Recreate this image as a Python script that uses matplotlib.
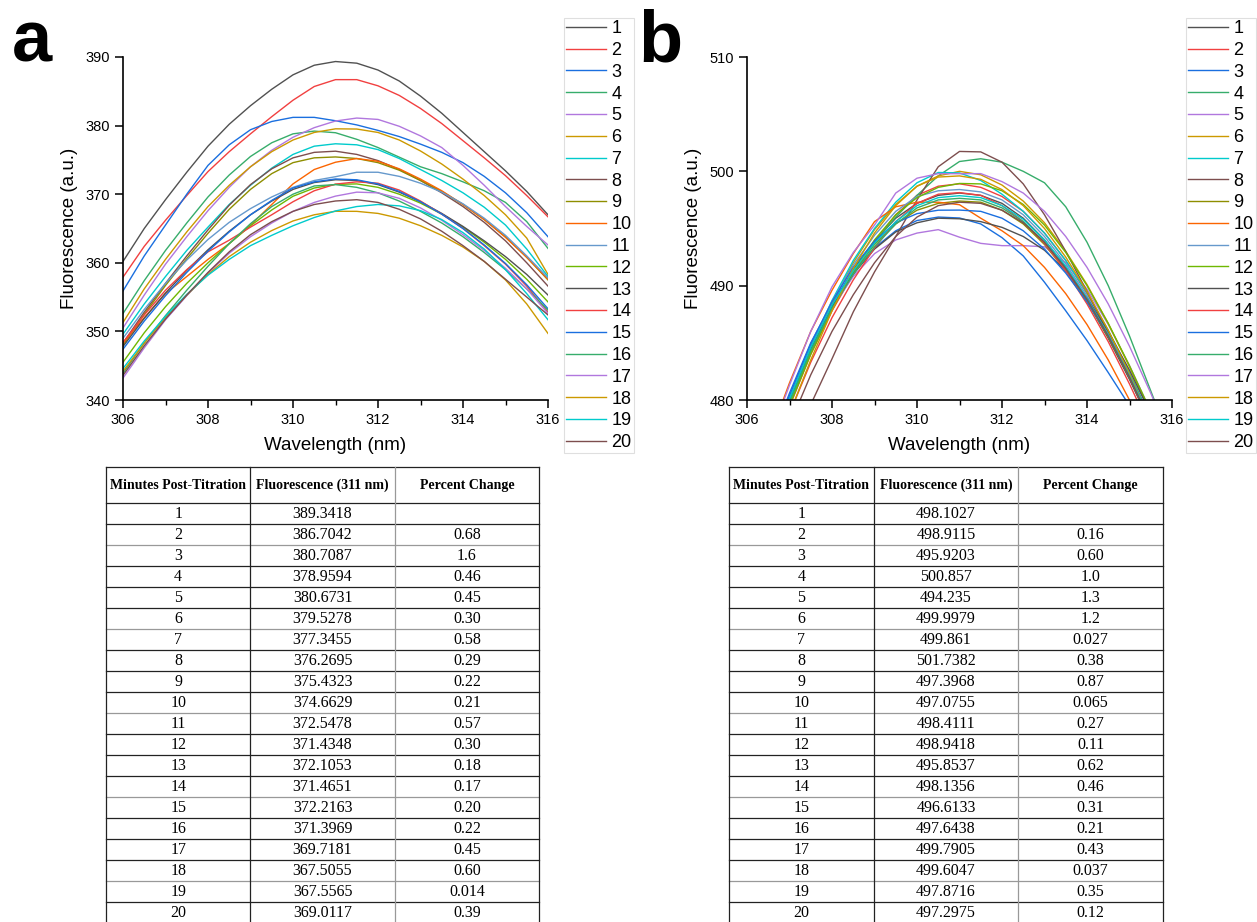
import matplotlib
matplotlib.use('Agg')
import matplotlib.pyplot as plt
from matplotlib.ticker import MultipleLocator

plt.rcParams['font.family'] = ['Liberation Sans', 'DejaVu Sans']

# Origin default colour list (repeats after 12)
colors = ['#515151', '#F14040', '#1A6FDF', '#37AD6B', '#B177DE', '#CC9900',
          '#00CBCC', '#7D4E4E', '#8E8E00', '#FB6501', '#6699CC', '#6FB802']

minutes = [1, 2, 3, 4, 5, 6, 7, 8, 9, 10, 11, 12, 13, 14, 15, 16, 17, 18, 19, 20]

# ---- panel a spectra (306-316 nm, 0.5 nm step)
wl_a = [306.0, 306.5, 307.0, 307.5, 308.0, 308.5, 309.0, 309.5, 310.0, 310.5, 311.0,
        311.5, 312.0, 312.5, 313.0, 313.5, 314.0, 314.5, 315.0, 315.5, 316.0]
a1 = [360.2, 365.0, 369.2, 373.2, 377.0, 380.2, 382.9, 385.3, 387.4, 388.8, 389.34, 389.1, 388.1, 386.5, 384.3, 381.8, 379.0, 376.2, 373.4, 370.4, 367.0]
a2 = [357.9, 362.4, 366.2, 369.8, 373.3, 376.2, 378.8, 381.3, 383.7, 385.7, 386.70, 386.7, 385.8, 384.4, 382.5, 380.3, 377.8, 375.3, 372.7, 369.8, 366.7]
a3 = [355.9, 361.0, 365.5, 370.0, 374.2, 377.2, 379.4, 380.6, 381.2, 381.2, 380.71, 380.1, 379.3, 378.4, 377.3, 376.1, 374.6, 372.6, 370.2, 367.3, 363.8]
a4 = [352.6, 357.4, 361.8, 365.8, 369.6, 372.8, 375.5, 377.5, 378.8, 379.2, 378.96, 378.0, 376.8, 375.4, 374.0, 373.0, 371.8, 370.5, 368.8, 366.0, 362.1]
a5 = [350.5, 355.3, 359.8, 363.8, 367.6, 371.0, 374.0, 376.4, 378.3, 379.7, 380.67, 381.1, 380.9, 379.9, 378.5, 376.8, 374.2, 371.3, 368.2, 365.3, 362.6]
a6 = [351.3, 356.2, 360.5, 364.5, 368.2, 371.3, 374.0, 376.2, 377.9, 379.0, 379.53, 379.5, 379.0, 377.9, 376.3, 374.4, 372.2, 369.8, 367.0, 363.6, 358.3]
a7 = [349.6, 354.0, 358.0, 361.8, 365.2, 368.5, 371.3, 373.8, 375.8, 377.0, 377.35, 377.2, 376.5, 375.2, 373.6, 372.0, 370.2, 368.1, 365.5, 362.0, 358.0]
a8 = [348.3, 352.8, 357.0, 361.0, 364.8, 368.4, 371.4, 373.7, 375.3, 376.1, 376.27, 375.8, 374.9, 373.6, 372.0, 370.2, 368.2, 365.9, 363.2, 360.0, 356.6]
a9 = [348.0, 352.5, 356.7, 360.6, 364.3, 367.8, 370.7, 373.0, 374.6, 375.3, 375.43, 375.2, 374.6, 373.5, 372.0, 370.4, 368.5, 366.3, 363.8, 360.8, 357.5]
a10 = [348.3, 352.0, 355.5, 358.0, 360.5, 362.8, 365.5, 368.5, 371.5, 373.6, 374.66, 375.2, 374.8, 373.7, 372.2, 370.5, 368.5, 366.3, 363.7, 360.8, 357.6]
a11 = [349.0, 353.2, 357.0, 360.4, 363.4, 365.9, 367.9, 369.6, 371.0, 372.0, 372.55, 373.2, 373.2, 372.6, 371.6, 370.3, 368.6, 366.5, 364.0, 361.0, 357.8]
a12 = [345.5, 349.8, 353.6, 357.0, 360.0, 362.8, 365.4, 367.7, 369.7, 370.9, 371.43, 371.5, 371.0, 370.0, 368.7, 367.1, 365.2, 363.0, 360.5, 357.6, 354.3]
a13 = [347.8, 351.9, 355.6, 358.9, 361.9, 364.6, 367.0, 369.0, 370.7, 371.7, 372.11, 372.0, 371.4, 370.3, 368.9, 367.2, 365.3, 363.2, 360.9, 358.3, 355.3]
a14 = [348.4, 352.4, 356.0, 359.0, 361.6, 363.3, 365.2, 367.0, 368.9, 370.5, 371.47, 371.8, 371.6, 370.6, 369.0, 367.1, 365.0, 362.5, 359.8, 356.6, 352.8]
a15 = [347.4, 351.5, 355.2, 358.6, 361.7, 364.5, 367.0, 369.1, 370.9, 371.8, 372.22, 372.1, 371.5, 370.4, 368.9, 367.1, 365.0, 362.6, 359.9, 356.8, 353.3]
a16 = [343.9, 348.3, 352.3, 356.0, 359.5, 362.8, 365.7, 368.2, 370.0, 371.2, 371.40, 371.0, 370.2, 369.0, 367.5, 365.8, 363.8, 361.5, 359.0, 356.2, 353.1]
a17 = [343.2, 347.6, 351.7, 355.2, 358.5, 361.4, 363.8, 365.8, 367.5, 368.8, 369.72, 370.3, 370.2, 369.4, 368.0, 366.2, 364.1, 361.8, 359.2, 356.2, 352.6]
a18 = [344.2, 348.3, 352.0, 355.3, 358.3, 360.9, 363.0, 364.7, 366.1, 367.0, 367.51, 367.5, 367.2, 366.5, 365.4, 364.0, 362.3, 360.2, 357.5, 354.0, 349.7]
a19 = [344.6, 348.6, 352.2, 355.4, 358.2, 360.5, 362.5, 364.0, 365.4, 366.6, 367.56, 368.2, 368.5, 368.3, 367.6, 366.3, 364.4, 362.0, 359.0, 355.5, 351.7]
a20 = [343.6, 347.9, 351.8, 355.3, 358.6, 361.6, 364.1, 366.0, 367.5, 368.5, 369.01, 369.2, 368.8, 367.8, 366.4, 364.6, 362.5, 360.2, 357.6, 355.0, 352.4]

# ---- panel b spectra (306.5-316 nm, 0.5 nm step)
wl_b = [306.5, 307.0, 307.5, 308.0, 308.5, 309.0, 309.5, 310.0, 310.5, 311.0,
        311.5, 312.0, 312.5, 313.0, 313.5, 314.0, 314.5, 315.0, 315.5, 316.0]
b1 = [475.0, 480.0, 484.6, 488.3, 491.4, 493.9, 495.9, 497.2, 497.9, 498.10, 497.9, 497.2, 495.9, 494.0, 491.6, 488.7, 485.4, 481.8, 477.9, 474.0]
b2 = [474.5, 479.4, 484.0, 487.8, 491.0, 493.8, 496.2, 497.9, 498.7, 498.91, 498.6, 497.8, 496.5, 494.6, 492.2, 489.3, 486.0, 482.3, 478.3, 474.2]
b3 = [475.8, 480.6, 485.0, 488.5, 491.2, 493.3, 494.8, 495.7, 496.0, 495.92, 495.4, 494.2, 492.6, 490.3, 487.8, 485.2, 482.4, 479.5, 476.3, 472.8]
b4 = [474.6, 479.6, 484.2, 488.0, 491.2, 493.8, 496.0, 497.9, 499.6, 500.86, 501.1, 500.8, 500.0, 499.0, 496.9, 493.8, 490.0, 485.6, 480.8, 476.0]
b5 = [475.5, 480.3, 484.6, 488.1, 490.8, 492.8, 494.0, 494.6, 494.9, 494.24, 493.7, 493.5, 493.5, 493.4, 492.0, 489.7, 486.6, 483.0, 479.0, 475.0]
b6 = [474.8, 479.8, 484.5, 488.5, 492.0, 494.9, 497.1, 498.7, 499.6, 500.00, 499.7, 498.8, 497.4, 495.5, 493.0, 490.1, 486.7, 482.9, 478.8, 474.6]
b7 = [475.0, 480.0, 484.7, 488.7, 492.2, 495.0, 497.3, 499.0, 499.9, 499.86, 499.2, 498.0, 496.5, 494.6, 492.2, 489.4, 486.1, 482.4, 478.4, 474.3]
b8 = [471.0, 475.5, 479.6, 483.6, 487.7, 491.2, 494.3, 497.5, 500.4, 501.74, 501.7, 500.8, 498.9, 496.2, 493.0, 489.5, 485.8, 481.9, 477.8, 473.6]
b9 = [475.0, 480.0, 484.5, 488.2, 491.2, 493.6, 495.4, 496.6, 497.2, 497.40, 497.3, 496.6, 495.4, 493.6, 491.3, 488.6, 485.5, 482.0, 478.1, 474.0]
b10 = [476.5, 481.5, 486.0, 489.6, 492.8, 495.6, 496.9, 497.3, 497.3, 497.08, 495.9, 494.8, 493.5, 491.6, 489.3, 486.6, 483.5, 480.0, 476.2, 472.2]
b11 = [475.2, 480.2, 484.8, 488.6, 491.8, 494.4, 496.5, 497.8, 498.3, 498.41, 498.2, 497.5, 496.2, 494.3, 491.9, 489.1, 485.8, 482.1, 478.1, 473.9]
b12 = [474.6, 479.5, 484.0, 487.9, 491.2, 494.0, 496.2, 497.7, 498.6, 498.94, 498.9, 498.3, 497.1, 495.3, 492.9, 490.0, 486.7, 483.0, 479.0, 474.8]
b13 = [475.0, 480.0, 484.5, 488.2, 491.0, 493.2, 494.7, 495.5, 495.9, 495.85, 495.6, 495.1, 494.3, 493.1, 491.3, 488.9, 486.0, 482.6, 478.8, 474.8]
b14 = [473.8, 478.8, 483.3, 487.2, 490.5, 493.3, 495.6, 497.2, 498.0, 498.14, 497.9, 497.0, 495.6, 493.7, 491.3, 488.4, 485.1, 481.4, 477.4, 473.2]
b15 = [475.5, 480.4, 484.9, 488.6, 491.6, 493.9, 495.5, 496.3, 496.6, 496.61, 496.5, 495.9, 494.8, 493.2, 491.1, 488.6, 485.6, 482.2, 478.4, 474.3]
b16 = [474.8, 479.8, 484.3, 488.0, 491.0, 493.4, 495.4, 496.8, 497.5, 497.64, 497.5, 496.8, 495.6, 493.8, 491.5, 488.8, 485.6, 482.0, 478.0, 473.8]
b17 = [476.3, 481.3, 486.0, 489.9, 492.9, 495.3, 498.1, 499.4, 499.8, 499.79, 499.8, 499.1, 498.1, 496.5, 494.3, 491.6, 488.4, 484.7, 480.6, 476.2]
b18 = [474.0, 478.8, 483.5, 487.8, 491.5, 494.6, 497.0, 498.7, 499.5, 499.60, 499.3, 498.4, 497.0, 495.0, 492.5, 489.5, 486.1, 482.3, 478.2, 474.0]
b19 = [475.2, 480.1, 484.6, 488.3, 491.3, 493.7, 495.6, 497.0, 497.7, 497.87, 497.7, 497.0, 495.8, 494.0, 491.7, 488.9, 485.7, 482.1, 478.2, 474.1]
b20 = [473.0, 477.8, 482.2, 486.0, 489.2, 492.0, 494.3, 496.0, 497.0, 497.30, 497.2, 496.6, 495.5, 493.8, 491.5, 488.8, 485.6, 482.0, 478.0, 473.8]

# ---- tables
table_header = ['Minutes Post-Titration', 'Fluorescence (311 nm)', 'Percent Change']
fluor_a = ['389.3418', '386.7042', '380.7087', '378.9594', '380.6731', '379.5278', '377.3455',
           '376.2695', '375.4323', '374.6629', '372.5478', '371.4348', '372.1053', '371.4651',
           '372.2163', '371.3969', '369.7181', '367.5055', '367.5565', '369.0117']
pct_a = ['', '0.68', '1.6', '0.46', '0.45', '0.30', '0.58', '0.29', '0.22', '0.21',
         '0.57', '0.30', '0.18', '0.17', '0.20', '0.22', '0.45', '0.60', '0.014', '0.39']
fluor_b = ['498.1027', '498.9115', '495.9203', '500.857', '494.235', '499.9979', '499.861',
           '501.7382', '497.3968', '497.0755', '498.4111', '498.9418', '495.8537', '498.1356',
           '496.6133', '497.6438', '499.7905', '499.6047', '497.8716', '497.2975']
pct_b = ['', '0.16', '0.60', '1.0', '1.3', '1.2', '0.027', '0.38', '0.87', '0.065',
         '0.27', '0.11', '0.62', '0.46', '0.31', '0.21', '0.43', '0.037', '0.35', '0.12']

curves_a = [a1, a2, a3, a4, a5, a6, a7, a8, a9, a10, a11, a12, a13, a14, a15, a16, a17, a18, a19, a20]
curves_b = [b1, b2, b3, b4, b5, b6, b7, b8, b9, b10, b11, b12, b13, b14, b15, b16, b17, b18, b19, b20]

W, H = 1257, 922
fig = plt.figure(figsize=(W / 100, H / 100), dpi=100)


def box(l, t, r, b):
    return [l / W, 1 - b / H, (r - l) / W, (b - t) / H]


def spectra(ax, wl, curves, ylim, leg_x, handle_len):
    for i, c in enumerate(curves):
        ax.plot(wl, c, color=colors[i % 12], lw=1.0, label=str(minutes[i]))
    ax.set_xlim(306, 316)
    ax.set_ylim(*ylim)
    ax.spines[['top', 'right']].set_visible(False)
    ax.spines[['left', 'bottom']].set_linewidth(1.2)
    ax.xaxis.set_major_locator(MultipleLocator(2))
    ax.xaxis.set_minor_locator(MultipleLocator(1))
    ax.yaxis.set_major_locator(MultipleLocator(10))
    ax.tick_params(which='major', direction='out', length=6, width=1.1, labelsize=10.5)
    ax.tick_params(which='minor', direction='out', length=3.5, width=1.0)
    ax.set_xlabel('Wavelength (nm)', fontsize=13.5, labelpad=7)
    ax.set_ylabel('Fluorescence (a.u.)', fontsize=13.5, labelpad=5)
    leg = ax.legend(loc='upper left', bbox_to_anchor=(leg_x / W, 1 - 18 / H),
                    bbox_transform=fig.transFigure, fontsize=13,
                    handlelength=handle_len, handletextpad=0.3, labelspacing=0.265,
                    borderpad=0.12, borderaxespad=0, fancybox=False, frameon=True)
    leg.get_frame().set_edgecolor('#d8d8d8')
    leg.get_frame().set_linewidth(0.8)


ax_a = fig.add_axes(box(123, 57, 548, 400))
spectra(ax_a, wl_a, curves_a, (340, 390), 564, 2.2)
ax_b = fig.add_axes(box(747, 57, 1172, 400))
spectra(ax_b, wl_b, curves_b, (480, 510), 1186, 2.2)

fig.text(12 / W, 1 - 62 / H, 'a', fontsize=52, fontweight='bold', ha='left', va='baseline')
fig.text(638 / W, 1 - 62 / H, 'b', fontsize=52, fontweight='bold', ha='left', va='baseline')


def draw_table(left, right, fluor, pct):
    top, head_h, row_h = 467, 36, 21
    bottom = top + head_h + row_h * len(minutes)
    tax = fig.add_axes(box(left, top, right, H))
    tax.set_xlim(left, right)
    tax.set_ylim(H, top)
    tax.axis('off')
    col_w = (right - left) / 3
    xs = [left, left + col_w, left + 2 * col_w, right]
    serif = ['Liberation Serif', 'DejaVu Serif']
    # horizontal rules
    ys = [top, top + head_h] + [top + head_h + row_h * (k + 1) for k in range(len(minutes))]
    for k, y in enumerate(ys):
        col = '#222222' if k % 4 != 3 else '#999999'
        tax.plot([left, right], [y, y], color=col, lw=0.9, clip_on=False)
    for k, x in enumerate(xs):
        col = '#999999' if k == 2 else '#222222'
        tax.plot([x, x], [top, bottom], color=col, lw=0.9, clip_on=False)
    for j, h in enumerate(table_header):
        tax.text((xs[j] + xs[j + 1]) / 2, top + head_h / 2, h, ha='center', va='center',
                 family=serif, fontsize=10, fontweight='bold')
    for i, m in enumerate(minutes):
        yc = top + head_h + row_h * (i + 0.5)
        row = [str(m), fluor[i], pct[i]]
        for j, s in enumerate(row):
            tax.text((xs[j] + xs[j + 1]) / 2, yc, s, ha='center', va='center',
                     family=serif, fontsize=11.5)


draw_table(106, 539, fluor_a, pct_a)
draw_table(729, 1163, fluor_b, pct_b)

fig.savefig('out.png', dpi=100)
